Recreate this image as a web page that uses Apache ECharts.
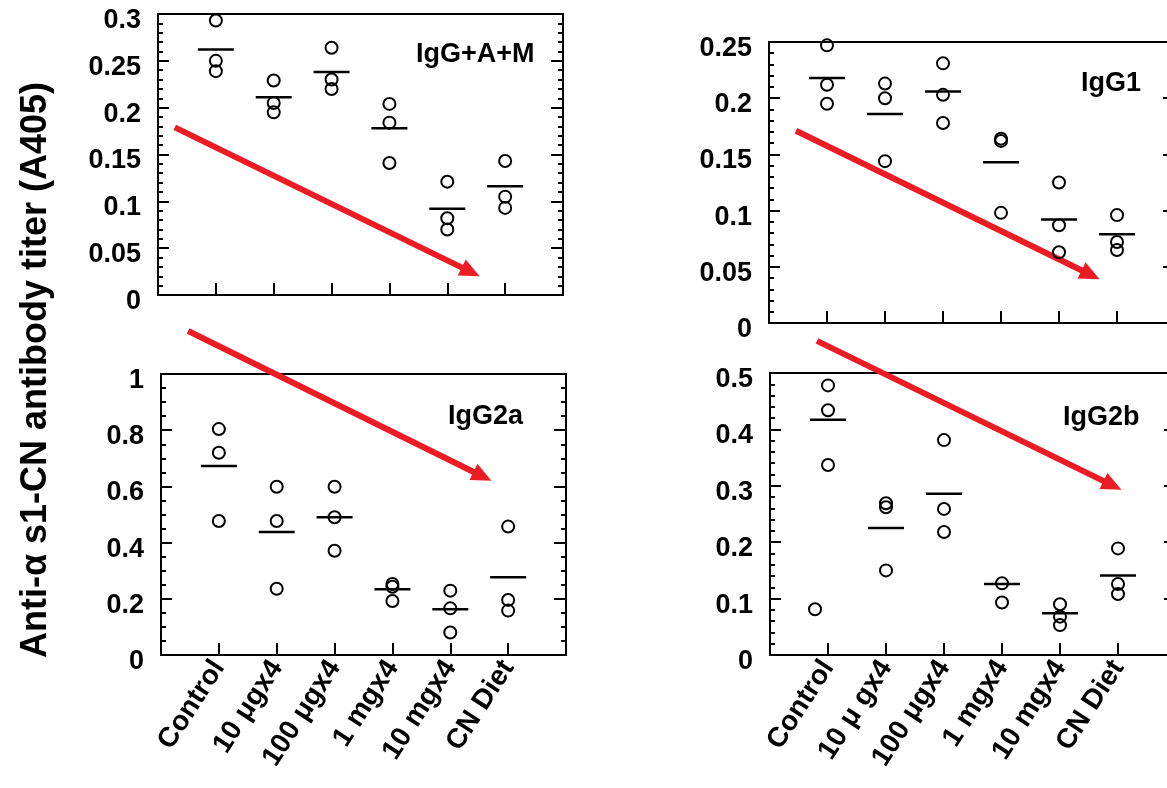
<!DOCTYPE html>
<html>
<head>
<meta charset="utf-8">
<script src="https://cdn.jsdelivr.net/npm/echarts@6/dist/echarts.min.js"></script>
<style>
html,body{margin:0;padding:0;background:#fff;}
#main{width:1167px;height:788px;}
</style>
</head>
<body>
<div id="main"></div>
<script>
// ---------- DATA ----------
const categoriesLeft = ['Control', '10 \u03bcgx4', '100 \u03bcgx4', '1 mgx4', '10 mgx4', 'CN Diet'];
const categoriesRight = ['Control', '10 \u03bc gx4', '100 \u03bcgx4', '1 mgx4', '10 mgx4', 'CN Diet'];

const panelTitles = ['IgG+A+M', 'IgG1', 'IgG2a', 'IgG2b'];

// individual animals per group
const iggamPoints = [[0.293, 0.250, 0.239], [0.229, 0.205, 0.195], [0.264, 0.230, 0.220], [0.204, 0.184, 0.141], [0.121, 0.082, 0.070], [0.143, 0.105, 0.093]];
const iggamMeans = [0.262, 0.211, 0.238, 0.178, 0.092, 0.116];

const igg1Points = [[0.247, 0.212, 0.195], [0.213, 0.200, 0.144], [0.231, 0.203, 0.178], [0.164, 0.162, 0.098], [0.125, 0.087, 0.063], [0.096, 0.072, 0.065]];
const igg1Means = [0.218, 0.186, 0.206, 0.143, 0.092, 0.079];

const igg2aPoints = [[0.804, 0.720, 0.477], [0.599, 0.477, 0.236], [0.599, 0.490, 0.371], [0.253, 0.243, 0.192], [0.229, 0.166, 0.080], [0.457, 0.196, 0.158]];
const igg2aMeans = [0.673, 0.438, 0.490, 0.234, 0.163, 0.277];

const igg2bPoints = [[0.478, 0.434, 0.337], [0.269, 0.262, 0.150], [0.381, 0.259, 0.218], [0.127, 0.093], [0.090, 0.068, 0.053], [0.189, 0.126, 0.108]];
const igg2bMeans = [0.417, 0.225, 0.286, 0.126, 0.074, 0.141];
const igg2bOutlier = [0.081]; // Control group, plotted beside the column

// y-axis scales
const yMax = [0.3, 0.25, 1, 0.5];
const yInterval = [0.05, 0.05, 0.2, 0.1];
const yMinorSplit = [5, 5, 4, 5];

// trend arrows [xStart, yStart, xEnd, yEnd] in each panel's data units
const arrows = [
  [0.29, 0.179, 5.56, 0.020],
  [0.465, 0.171, 5.70, 0.039],
  [0.47, 1.153, 5.71, 0.620],
  [0.81, 0.557, 6.06, 0.293]
];

const yAxisTitle = 'Anti-\u03b1 s1-CN antibody titer (A405)';

// ---------- LAYOUT ----------
const FONT = '"Liberation Sans", Arial, Helvetica, sans-serif';
const grids = [
  {left: 158, top: 14, width: 405, height: 281, outerBoundsMode: 'none', containLabel: false},
  {left: 769, top: 42, width: 406, height: 281, outerBoundsMode: 'none', containLabel: false},
  {left: 161, top: 374, width: 405, height: 281, outerBoundsMode: 'none', containLabel: false},
  {left: 770, top: 373, width: 406, height: 282, outerBoundsMode: 'none', containLabel: false}
];
const titlePos = [
  {left: 416, top: 41},
  {left: 1081, top: 70},
  {left: 448, top: 403},
  {left: 1063, top: 404}
];
const showXLabels = [false, false, true, true];
const panelPoints = [iggamPoints, igg1Points, igg2aPoints, igg2bPoints];
const panelMeans = [iggamMeans, igg1Means, igg2aMeans, igg2bMeans];
const panelCats = [categoriesLeft, categoriesRight, categoriesLeft, categoriesRight];

const xAxes = [], yAxes = [], series = [], titles = [];

grids.forEach((g, i) => {
  const cats = panelCats[i];
  xAxes.push({
    gridIndex: i, type: 'value', min: 0, max: 7, interval: 1, position: 'bottom',
    axisLine: {show: true, onZero: false, lineStyle: {color: '#000', width: 2}},
    axisTick: {show: true, inside: true, length: 12, lineStyle: {color: '#000', width: 2}},
    splitLine: {show: false},
    axisLabel: {
      show: showXLabels[i], rotate: 57, margin: 8, color: '#000', fontFamily: FONT, fontWeight: 'bold', fontSize: 28,
      formatter: v => (v >= 1 && v <= 6) ? cats[v - 1] : ''
    }
  });
  xAxes.push({
    gridIndex: i, type: 'value', min: 0, max: 7, interval: 1, position: 'top',
    axisLine: {show: true, onZero: false, lineStyle: {color: '#000', width: 2}},
    axisTick: {show: false}, axisLabel: {show: false}, splitLine: {show: false}
  });
  yAxes.push({
    gridIndex: i, type: 'value', min: 0, max: yMax[i], interval: yInterval[i], position: 'left',
    axisLine: {show: true, onZero: false, lineStyle: {color: '#000', width: 2}},
    axisTick: {show: true, inside: true, length: 11, lineStyle: {color: '#000', width: 2}},
    minorTick: {show: true, splitNumber: yMinorSplit[i], length: 5, lineStyle: {color: '#000', width: 2}},
    splitLine: {show: false},
    axisLabel: {color: '#000', fontFamily: FONT, fontWeight: 'bold', fontSize: 27, margin: 17,
                verticalAlign: 'top', lineHeight: 13}
  });
  yAxes.push({
    gridIndex: i, type: 'value', min: 0, max: yMax[i], interval: yInterval[i], position: 'right',
    axisLine: {show: true, onZero: false, lineStyle: {color: '#000', width: 2}},
    axisTick: {show: true, inside: true, length: 12, lineStyle: {color: '#000', width: 2}},
    minorTick: {show: true, splitNumber: yMinorSplit[i], length: 5, lineStyle: {color: '#000', width: 2}},
    splitLine: {show: false}, axisLabel: {show: false}
  });

  const xi = i * 2, yi = i * 2;

  series.push({
    type: 'custom', xAxisIndex: xi, yAxisIndex: yi, clip: false, z: 1,
    data: [arrows[i]],
    encode: {x: [0, 2], y: [1, 3]},
    renderItem: (params, api) => {
      const p1 = api.coord([api.value(0), api.value(1)]);
      const p2 = api.coord([api.value(2), api.value(3)]);
      const dx = p2[0] - p1[0], dy = p2[1] - p1[1];
      const len = Math.sqrt(dx * dx + dy * dy);
      const ux = dx / len, uy = dy / len;
      const headL = 20, headW = 9;
      const bx = p2[0] - ux * headL, by = p2[1] - uy * headL;
      return {
        type: 'group',
        children: [
          {type: 'line', shape: {x1: p1[0], y1: p1[1], x2: bx + ux * 2, y2: by + uy * 2},
           style: {stroke: '#ec1c24', lineWidth: 6}},
          {type: 'polygon', shape: {points: [[p2[0], p2[1]], [bx - uy * headW, by + ux * headW], [bx + uy * headW, by - ux * headW]]},
           style: {fill: '#ec1c24'}}
        ]
      };
    }
  });

  series.push({
    type: 'custom', xAxisIndex: xi, yAxisIndex: yi, z: 3,
    data: panelMeans[i].map((m, k) => [k + 1, m]),
    renderItem: (params, api) => {
      const c = api.coord([api.value(0), api.value(1)]);
      return {type: 'line', shape: {x1: c[0] - 18, y1: c[1], x2: c[0] + 18, y2: c[1]},
              style: {stroke: '#000', lineWidth: 2.5}};
    }
  });

  const pts = [];
  panelPoints[i].forEach((arr, k) => arr.forEach(v => pts.push([k + 1, v])));
  series.push({
    type: 'scatter', xAxisIndex: xi, yAxisIndex: yi, z: 4,
    symbol: 'circle', symbolSize: 12,
    itemStyle: {color: 'rgba(0,0,0,0)', borderColor: '#000', borderWidth: 2, opacity: 1},
    data: pts
  });

  titles.push({
    text: panelTitles[i], left: titlePos[i].left, top: titlePos[i].top, padding: 0,
    textStyle: {fontFamily: FONT, fontWeight: 'bold', fontSize: 27, color: '#000'}
  });
});

series.push({
  type: 'scatter', xAxisIndex: 6, yAxisIndex: 6, z: 4,
  symbol: 'circle', symbolSize: 12, symbolOffset: [-13, 0],
  itemStyle: {color: 'rgba(0,0,0,0)', borderColor: '#000', borderWidth: 2, opacity: 1},
  data: igg2bOutlier.map(v => [1, v])
});

const chart = echarts.init(document.getElementById('main'), null, {renderer: 'canvas'});
chart.setOption({
  animation: false,
  backgroundColor: '#fff',
  title: titles,
  grid: grids,
  xAxis: xAxes,
  yAxis: yAxes,
  series: series,
  graphic: [{
    type: 'text', x: 36, y: 370, rotation: Math.PI / 2,
    style: {text: yAxisTitle, font: 'bold 36px ' + FONT, fill: '#000', textAlign: 'center', textVerticalAlign: 'middle'}
  }]
});
</script>
</body>
</html>
